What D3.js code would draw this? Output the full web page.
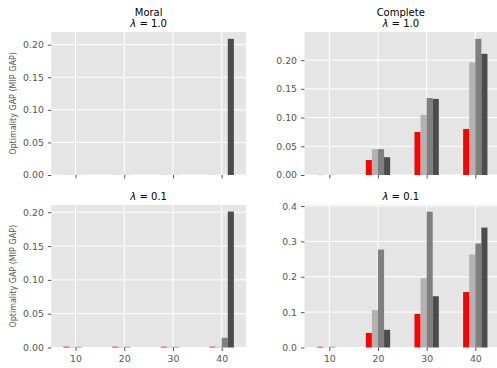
<!DOCTYPE html>
<html>
<head>
<meta charset="utf-8">
<title>Optimality GAP</title>
<style>
  body { margin: 0; background: #fff; }
  text { font-family: "DejaVu Sans", sans-serif; }
</style>
<script src="https://d3js.org/d3.v7.min.js"></script>
</head>
<body>
<script>
// group sizes on the x axis
var groups = [10, 20, 30, 40];
var seriesColors = ["#ff0000", "#b2b2b2", "#7f7f7f", "#4c4c4c"];

// Moral, lambda = 1.0
var moral1Red   = [0.0002, 0.0002, 0.0002, 0.0002];
var moral1Light = [0.0002, 0.0002, 0.0002, 0.0];
var moral1Gray  = [0.0002, 0.0002, 0.0002, 0.0];
var moral1Dark  = [0.0, 0.0, 0.0, 0.209];

// Complete, lambda = 1.0
var comp1Red   = [0.0003, 0.026, 0.075, 0.080];
var comp1Light = [0.0, 0.045, 0.1046, 0.196];
var comp1Gray  = [0.0003, 0.045, 0.134, 0.237];
var comp1Dark  = [0.0, 0.031, 0.1325, 0.211];

// Moral, lambda = 0.1
var moral01Red   = [0.0012, 0.0012, 0.0012, 0.0012];
var moral01Light = [0.0008, 0.0008, 0.0008, 0.0008];
var moral01Gray  = [0.0010, 0.0010, 0.0010, 0.0143];
var moral01Dark  = [0.0, 0.0, 0.0, 0.201];

// Complete, lambda = 0.1
var comp01Red   = [0.002, 0.041, 0.095, 0.157];
var comp01Light = [0.001, 0.106, 0.196, 0.263];
var comp01Gray  = [0.002, 0.277, 0.384, 0.294];
var comp01Dark  = [0.0, 0.050, 0.145, 0.339];

var yTicksSmall = [0, 0.05, 0.10, 0.15, 0.20];
var yTicksLarge = [0, 0.1, 0.2, 0.3, 0.4];

var width = 497, height = 368;
var svg = d3.select("body").append("svg")
    .attr("width", width)
    .attr("height", height);

// panels
var panels = [
  { x0: 51.3, x1: 246, y0: 32, y1: 175, xd: [5.03, 44.99], ymax: 0.2195,
    series: [moral1Red, moral1Light, moral1Gray, moral1Dark],
    yticks: yTicksSmall, fmt: ".2f", title: ["Moral", "1.0"], ylabel: true, xlabels: false },
  { x0: 304.5, x1: 497, y0: 32, y1: 175, xd: [4.9, 44.46], ymax: 0.249,
    series: [comp1Red, comp1Light, comp1Gray, comp1Dark],
    yticks: yTicksSmall, fmt: ".2f", title: ["Complete", "1.0"], ylabel: false, xlabels: false },
  { x0: 51.3, x1: 246, y0: 205, y1: 347.5, xd: [5.03, 44.99], ymax: 0.2107,
    series: [moral01Red, moral01Light, moral01Gray, moral01Dark],
    yticks: yTicksSmall, fmt: ".2f", title: ["0.1"], ylabel: true, xlabels: true },
  { x0: 304.5, x1: 497, y0: 205, y1: 347.5, xd: [4.9, 44.46], ymax: 0.403,
    series: [comp01Red, comp01Light, comp01Gray, comp01Dark],
    yticks: yTicksLarge, fmt: ".1f", title: ["0.1"], ylabel: false, xlabels: true }
];

var barW = 1.25;

panels.forEach(function(p, i) {
  var x = d3.scaleLinear().domain(p.xd).range([p.x0, p.x1]);
  var y = d3.scaleLinear().domain([0, p.ymax]).range([p.y1, p.y0]);
  var g = svg.append("g");

  g.append("rect")
    .attr("x", p.x0).attr("y", p.y0)
    .attr("width", p.x1 - p.x0).attr("height", p.y1 - p.y0)
    .attr("fill", "#e5e5e5");

  // grid
  g.selectAll(".hgrid").data(p.yticks).enter().append("line")
    .attr("x1", p.x0).attr("x2", p.x1)
    .attr("y1", function(d) { return y(d); }).attr("y2", function(d) { return y(d); })
    .attr("stroke", "#fff").attr("stroke-width", 1);
  g.selectAll(".vgrid").data(groups).enter().append("line")
    .attr("y1", p.y0).attr("y2", p.y1)
    .attr("x1", function(d) { return x(d); }).attr("x2", function(d) { return x(d); })
    .attr("stroke", "#fff").attr("stroke-width", 1);

  // bars
  p.series.forEach(function(vals, s) {
    g.selectAll(".bar" + s).data(vals).enter().append("rect")
      .attr("x", function(d, j) { return x(groups[j] - 2 * barW + s * barW); })
      .attr("width", function(d, j) { return x(groups[j] + barW) - x(groups[j]); })
      .attr("y", function(d) { return y(d); })
      .attr("height", function(d) { return y(0) - y(d); })
      .attr("fill", seriesColors[s]);
  });

  // y axis
  var yAxis = d3.axisLeft(y).tickValues(p.yticks).tickFormat(d3.format(p.fmt))
      .tickSize(3.5).tickPadding(4);
  var ya = svg.append("g").attr("transform", "translate(" + p.x0 + ",0)").call(yAxis);
  ya.select(".domain").remove();
  ya.selectAll("line").attr("stroke", "#555");
  ya.selectAll("text").attr("fill", "#555").style("font-size", "9.3px")
    .style("font-family", "DejaVu Sans, sans-serif");

  // x axis
  var xAxis = d3.axisBottom(x).tickValues(groups).tickSize(3.5).tickPadding(4);
  if (!p.xlabels) xAxis.tickFormat("");
  var xa = svg.append("g").attr("transform", "translate(0," + p.y1 + ")").call(xAxis);
  xa.select(".domain").remove();
  xa.selectAll("line").attr("stroke", "#555");
  xa.selectAll("text").attr("fill", "#555").style("font-size", "9.3px")
    .style("font-family", "DejaVu Sans, sans-serif");

  // title: last line is the lambda value
  var cx = (p.x0 + p.x1) / 2;
  var n = p.title.length;
  p.title.forEach(function(line, k) {
    var t = svg.append("text")
      .attr("x", cx)
      .attr("y", p.y0 - 5 - (n - 1 - k) * 11.5)
      .attr("text-anchor", "middle")
      .style("font-size", "10px")
      .attr("fill", "#000");
    if (k === n - 1) {
      t.append("tspan").style("font-style", "italic").text("λ");
      t.append("tspan").text(" = " + line);
    } else {
      t.text(line);
    }
  });

  if (p.ylabel) {
    svg.append("text")
      .attr("transform", "translate(16," + ((p.y0 + p.y1) / 2) + ") rotate(-90)")
      .attr("text-anchor", "middle")
      .attr("fill", "#555")
      .style("font-size", "8px")
      .text("Optimality GAP (MIP GAP)");
  }
});
</script>
</body>
</html>
